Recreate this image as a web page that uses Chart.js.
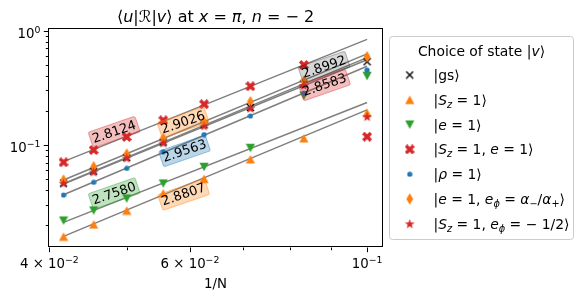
<!DOCTYPE html>
<html><head><meta charset="utf-8">
<script src="https://cdn.jsdelivr.net/npm/chart.js@4/dist/chart.umd.min.js"></script>
<style>html,body{margin:0;padding:0;background:#fff}#wrap{width:580px;height:297px}</style>
</head><body><div id="wrap"><canvas id="c" width="580" height="297"></canvas></div>
<script>
// ---------- data ----------
const invN = [0.041667, 0.045455, 0.05, 0.055556, 0.0625, 0.071429, 0.083333, 0.1]; // 1/N, N = 24..10
const gsVals    = [0.0465, 0.0590, 0.0776, 0.1060, 0.1500, 0.2130, 0.3420, 0.535];
const sz1Vals   = [0.0158, 0.0202, 0.0267, 0.0378, 0.0506, 0.0750, 0.1145, 0.1917];
const e1Vals    = [0.0218, 0.0267, 0.0340, 0.0460, 0.0642, 0.0941, 0.2700, 0.401];
const sz1e1Vals = [0.0706, 0.0904, 0.1175, 0.1644, 0.2275, 0.3263, 0.5010, 0.1182];
const rhoVals   = [0.0365, 0.0472, 0.0625, 0.0874, 0.1235, 0.1794, 0.2850, 0.453];
const ephiVals  = [0.0494, 0.0646, 0.0834, 0.1145, 0.1589, 0.2392, 0.3630, 0.592];
const starVals  = [0.0462, 0.0581, 0.0769, 0.1041, 0.1467, 0.2095, 0.3310, 0.177];

// fitted power-law lines: value at 1/N = 1/24 and at 1/N = 0.1
const fitLeft  = [0.0459, 0.01585, 0.02105, 0.0715, 0.0367, 0.0494, 0.0456];
const fitRight = [0.581, 0.203, 0.2355, 0.839, 0.488, 0.627, 0.557];
const fitLabels = ['2.8992', '2.8807', '2.7580', '2.8124', '2.9563', '2.9026', '2.8583'];
const fitLabelX = [0.08834, 0.05891, 0.04822, 0.04822, 0.05907, 0.05882, 0.08846];
const fitLabelY = [0.4813, 0.03688, 0.03764, 0.1299, 0.0886, 0.1573, 0.3349];

const xMajorTicks = [0.04, 0.06, 0.1];
const xMinorTicks = [0.05, 0.07, 0.08, 0.09];
const yMajorTicks = [0.1, 1];
const yMinorTicks = [0.02, 0.03, 0.04, 0.05, 0.06, 0.07, 0.08, 0.09, 0.2, 0.3, 0.4, 0.5, 0.6, 0.7, 0.8, 0.9];
const xTickLabels = [[['4 × 10','r'],['−2','sup']], [['6 × 10','r'],['−2','sup']], [['10','r'],['−1','sup']]];
const yTickLabels = [[['10','r'],['−1','sup']], [['10','r'],['0','sup']]];
const titleText = [['⟨','r'],['u','i'],['|','r'],['ℛ','r'],['|','r'],['v','i'],['⟩','r'],[' at ','r'],['x','i'],[' = ','r'],['π','i'],[', ','r'],['n','i'],[' = ','r'],['− 2','r']];
const xAxisTitle = '1/N';
const legendTitle = [['Choice of state |','r'],['v','i'],['⟩','r']];
const legendLabels = [
  [['|gs⟩','r']],
  [['|','r'],['S','i'],['z','subi'],[' = 1⟩','r']],
  [['|','r'],['e','i'],[' = 1⟩','r']],
  [['|','r'],['S','i'],['z','subi'],[' = 1, ','r'],['e','i'],[' = 1⟩','r']],
  [['|','r'],['ρ','i'],[' = 1⟩','r']],
  [['|','r'],['e','i'],[' = 1, ','r'],['e','i'],['ϕ','subi'],[' = ','r'],['α','i'],['−','sub'],['/','r'],['α','i'],['+','sub'],['⟩','r']],
  [['|','r'],['S','i'],['z','subi'],[' = 1, ','r'],['e','i'],['ϕ','subi'],[' = − 1/2⟩','r']]
];

// ---------- styles ----------
const seriesVals = [gsVals, sz1Vals, e1Vals, sz1e1Vals, rhoVals, ephiVals, starVals];
const colors = ['#000000', '#ff7f0e', '#2ca02c', '#d62728', '#1f77b4', '#ff7f0e', '#d62728'];
const rgb = {'#000000':'0,0,0','#ff7f0e':'255,127,14','#2ca02c':'44,160,44','#d62728':'214,39,40','#1f77b4':'31,119,180'};
const FONT = '"DejaVu Sans", sans-serif';

function mk(w, h, fn) { const c = document.createElement('canvas'); c.width = w; c.height = h; fn(c.getContext('2d')); return c; }
const markers = [
  mk(9, 9, g => { g.strokeStyle = '#000'; g.lineWidth = 1.4; g.beginPath(); g.moveTo(1, 1); g.lineTo(8, 8); g.moveTo(8, 1); g.lineTo(1, 8); g.stroke(); }),
  mk(10, 10, g => { g.fillStyle = colors[1]; g.beginPath(); g.moveTo(5, 0.7); g.lineTo(9.6, 9.2); g.lineTo(0.4, 9.2); g.closePath(); g.fill(); }),
  mk(10, 10, g => { g.fillStyle = colors[2]; g.beginPath(); g.moveTo(0.4, 0.8); g.lineTo(9.6, 0.8); g.lineTo(5, 9.3); g.closePath(); g.fill(); }),
  mk(10, 10, g => { g.strokeStyle = colors[3]; g.lineWidth = 3.4; g.lineCap = 'butt'; g.beginPath(); g.moveTo(1.2, 1.2); g.lineTo(8.8, 8.8); g.moveTo(8.8, 1.2); g.lineTo(1.2, 8.8); g.stroke(); }),
  mk(6, 6, g => { g.fillStyle = colors[4]; g.beginPath(); g.arc(3, 3, 2.6, 0, Math.PI * 2); g.fill(); }),
  mk(8, 12, g => { g.fillStyle = colors[5]; g.beginPath(); g.moveTo(4, 0.3); g.lineTo(7.4, 6); g.lineTo(4, 11.7); g.lineTo(0.6, 6); g.closePath(); g.fill(); }),
  mk(11, 11, g => { g.fillStyle = colors[6]; g.beginPath(); for (let k = 0; k < 10; k++) { const r = k % 2 ? 2.1 : 5.2; const a = -Math.PI / 2 + k * Math.PI / 5; const px = 5.5 + r * Math.cos(a), py = 5.9 + r * Math.sin(a); k ? g.lineTo(px, py) : g.moveTo(px, py); } g.closePath(); g.fill(); })
];

// ---------- math text helper ----------
function segFont(st, size) {
  const small = st.startsWith('sub') || st.startsWith('sup');
  const s = small ? size * 0.7 : size;
  const it = st === 'i' || st === 'subi' || st === 'supi';
  return (it ? 'italic ' : '') + s.toFixed(2) + 'px ' + FONT;
}
function segDy(st, size) { return st.startsWith('sup') ? -size * 0.4 : st.startsWith('sub') ? size * 0.2 : 0; }
function mathWidth(ctx, segs, size) { let w = 0; for (const [t, st] of segs) { ctx.font = segFont(st, size); w += ctx.measureText(t).width; } return w; }
function drawMath(ctx, segs, x, y, size, align) {
  const w = mathWidth(ctx, segs, size);
  let cx = align === 'center' ? x - w / 2 : align === 'right' ? x - w : x;
  ctx.textAlign = 'left'; ctx.textBaseline = 'alphabetic';
  for (const [t, st] of segs) { ctx.font = segFont(st, size); ctx.fillText(t, cx, y + segDy(st, size)); cx += ctx.measureText(t).width; }
}

// ---------- datasets ----------
const datasets = [];
seriesVals.forEach((vals, i) => {
  datasets.push({ data: [{x: invN[0], y: fitLeft[i]}, {x: invN[invN.length - 1], y: fitRight[i]}], showLine: true,
    borderColor: '#7f7f7f', borderWidth: 1.5, pointRadius: 0, order: 50 - i });
});
seriesVals.forEach((vals, i) => {
  datasets.push({ data: invN.map((x, k) => ({x, y: vals[k]})), showLine: false, pointStyle: markers[i],
    pointRadius: 4, backgroundColor: colors[i], borderColor: colors[i], order: 20 - i });
});

const deco = {
  id: 'deco',
  beforeDraw(chart) { const c = chart.ctx; c.save(); c.fillStyle = '#fff'; c.fillRect(0, 0, chart.width, chart.height); c.restore(); },
  afterDatasetsDraw(chart) {
    const ctx = chart.ctx, xs = chart.scales.x, ys = chart.scales.y;
    ctx.save();
    const fs = 13;
    for (let i = 0; i < fitLabels.length; i++) {
      const px = xs.getPixelForValue(fitLabelX[i]), py = ys.getPixelForValue(fitLabelY[i]);
      ctx.font = fs + 'px ' + FONT;
      const w = ctx.measureText(fitLabels[i]).width + 4, h = 16.5;
      ctx.save(); ctx.translate(px, py); ctx.rotate(-19 * Math.PI / 180);
      ctx.beginPath(); ctx.roundRect(-w / 2, -h / 2, w, h, 2);
      const c = rgb[colors[i]];
      const al = colors[i] === '#000000' ? 0.16 : 0.3;
      ctx.fillStyle = 'rgba(' + c + ',' + al + ')'; ctx.fill();
      ctx.strokeStyle = 'rgba(' + c + ',' + (al + 0.1) + ')'; ctx.lineWidth = 1; ctx.stroke();
      ctx.fillStyle = '#000'; ctx.textAlign = 'center'; ctx.textBaseline = 'middle';
      ctx.fillText(fitLabels[i], 0, 0.5);
      ctx.restore();
    }
    ctx.restore();
  },
  afterDraw(chart) {
    const ctx = chart.ctx, xs = chart.scales.x, ys = chart.scales.y, a = chart.chartArea;
    ctx.save();
    ctx.fillStyle = '#000'; ctx.strokeStyle = '#000'; ctx.lineWidth = 1;
    // frame
    ctx.strokeRect(Math.round(a.left) - 0.5, Math.round(a.top) - 0.5, Math.round(a.right - a.left) + 1, Math.round(a.bottom - a.top) + 1);
    // ticks
    ctx.beginPath();
    const bot = Math.round(a.bottom) + 0.5, lef = Math.round(a.left) - 0.5;
    xMajorTicks.forEach(v => { const p = Math.round(xs.getPixelForValue(v)) + 0.5; ctx.moveTo(p, bot); ctx.lineTo(p, bot + 4.7); });
    xMinorTicks.forEach(v => { const p = Math.round(xs.getPixelForValue(v)) + 0.5; ctx.moveTo(p, bot); ctx.lineTo(p, bot + 2.7); });
    yMajorTicks.forEach(v => { const p = Math.round(ys.getPixelForValue(v)) + 0.5; ctx.moveTo(lef, p); ctx.lineTo(lef - 4.7, p); });
    yMinorTicks.forEach(v => { const p = Math.round(ys.getPixelForValue(v)) + 0.5; ctx.moveTo(lef, p); ctx.lineTo(lef - 2.7, p); });
    ctx.stroke();
    // tick labels
    const ts = 13.33;
    xMajorTicks.forEach((v, i) => drawMath(ctx, xTickLabels[i], xs.getPixelForValue(v), a.bottom + 21.8, ts, 'center'));
    yMajorTicks.forEach((v, i) => drawMath(ctx, yTickLabels[i], a.left - 8.5, ys.getPixelForValue(v) + 7.2, ts, 'right'));
    // axis title + chart title
    ctx.font = ts + 'px ' + FONT; ctx.textAlign = 'center'; ctx.textBaseline = 'alphabetic';
    ctx.fillText(xAxisTitle, (a.left + a.right) / 2, 288);
    drawMath(ctx, titleText, (a.left + a.right) / 2, 22, 16, 'center');
    // legend
    const ls = 13.9;
    ctx.beginPath(); ctx.roundRect(389.5, 36.5, 184, 203, 3);
    ctx.fillStyle = 'rgba(255,255,255,0.8)'; ctx.fill(); ctx.strokeStyle = '#cccccc'; ctx.stroke();
    ctx.fillStyle = '#000';
    drawMath(ctx, legendTitle, 481.5, 56, ls, 'center');
    legendLabels.forEach((segs, i) => {
      const cy = 75 + 24.8 * i;
      const m = markers[i];
      ctx.drawImage(m, 409.7 - m.width / 2, cy - m.height / 2);
      ctx.fillStyle = '#000';
      drawMath(ctx, segs, 433.5, cy + 5, ls, 'left');
    });
    ctx.restore();
  }
};

new Chart(document.getElementById('c'), {
  type: 'scatter',
  data: { datasets },
  options: {
    responsive: false, animation: false, devicePixelRatio: 1, events: [],
    layout: { padding: { left: 49, right: 198, top: 29.3, bottom: 50.5 } },
    plugins: { legend: { display: false }, title: { display: false }, tooltip: { enabled: false } },
    scales: {
      x: { type: 'logarithmic', min: 0.03996, max: 0.1044, display: false },
      y: { type: 'logarithmic', min: 0.01294, max: 1.0286, display: false }
    }
  },
  plugins: [deco]
});
</script>
</body></html>
